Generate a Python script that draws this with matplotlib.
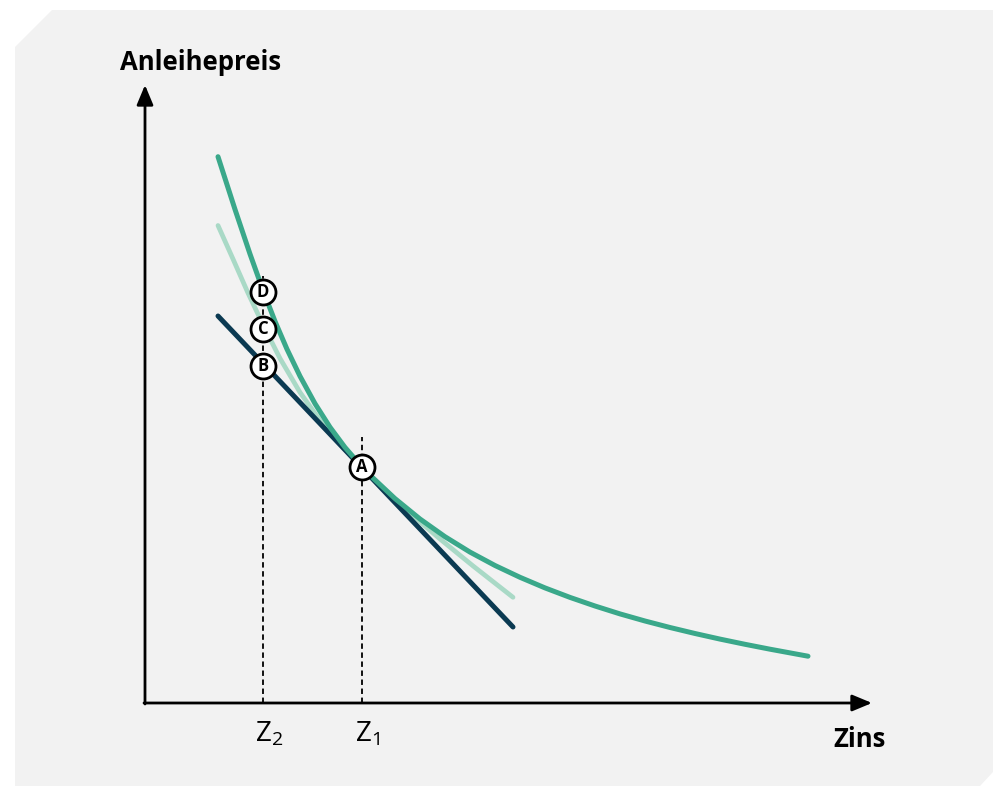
import matplotlib
matplotlib.use('Agg')
import matplotlib.pyplot as plt
from matplotlib.patches import Polygon

plt.rcParams['font.family'] = ['Open Sans', 'DejaVu Sans']
plt.rcParams['mathtext.fontset'] = 'custom'
plt.rcParams['mathtext.rm'] = 'Open Sans'
plt.rcParams['mathtext.it'] = 'Open Sans:italic'

# Anleihepreis-Kurve
price_x = [0.73, 0.90, 1.05, 1.18, 1.30, 1.42, 1.55, 1.70, 1.85, 2.00, 2.17, 2.25,
           2.50, 2.75, 3.00, 3.25, 3.50, 3.75, 4.00, 4.25, 4.50, 4.75, 5.00, 5.25,
           5.50, 5.75, 6.00, 6.25, 6.63]
price_y = [5.463, 4.936, 4.490, 4.126, 3.817, 3.538, 3.268, 2.994, 2.758, 2.556, 2.360,
           2.278, 2.044, 1.840, 1.663, 1.509, 1.375, 1.257, 1.151, 1.056, 0.970, 0.891,
           0.820, 0.755, 0.695, 0.639, 0.587, 0.538, 0.468]

# Approximation (Duration + Konvexitaet)
approx_x = [0.73, 0.88, 1.03, 1.18, 1.35, 1.55, 1.78, 1.90, 2.05, 2.17, 2.40, 2.62,
            2.95, 3.28, 3.68]
approx_y = [4.775, 4.440, 4.100, 3.782, 3.446, 3.106, 2.784, 2.642, 2.483, 2.360, 2.130,
            1.925, 1.640, 1.371, 1.057]

# Tangente in A (Duration)
tangent_x = [0.73, 3.68]
tangent_y = [3.87, 0.76]

z_values = [1.18, 2.17]
z_labels = [r'Z$_2$', r'Z$_1$']
guide_tops = [4.27, 2.66]

point_labels = ['A', 'B', 'C', 'D']
point_x = [2.17, 1.18, 1.18, 1.18]
point_y = [2.36, 3.37, 3.74, 4.11]

green = '#3aa88a'
light_green = '#a9d9c6'
navy = '#0b3a52'

W, H = 993, 786
fig = plt.figure(figsize=(W / 100, H / 100), dpi=100)
fig.patch.set_facecolor('white')

ax = fig.add_axes([0, 0, 1, 1])
ax.set_xlim(-1.45, 8.48)
ax.set_ylim(-0.83, 7.03)
ax.axis('off')
ax.patch.set_alpha(0)

# background panel with cut corners
corners = [(15, 47), (52, 10), (993, 10), (993, 772), (980, 786), (15, 786)]
panel = Polygon([(px / W, 1 - py / H) for px, py in corners], closed=True,
                facecolor='#f2f2f2', edgecolor='none', transform=fig.transFigure, zorder=0)
ax.add_patch(panel)

# axes with arrows
arrow = dict(arrowstyle='-|>,head_length=0.6,head_width=0.25', mutation_scale=20,
             lw=2, color='black', shrinkA=0, shrinkB=0)
ax.annotate('', xy=(7.27, 0), xytext=(-0.01, 0), arrowprops=arrow, zorder=2)
ax.annotate('', xy=(0, 6.18), xytext=(0, -0.01), arrowprops=arrow, zorder=2)

ax.text(0.56, 6.33, 'Anleihepreis', ha='center', va='baseline', fontsize=18.5,
        fontweight='bold', color='black')
ax.text(7.15, -0.44, 'Zins', ha='center', va='baseline', fontsize=18.5,
        fontweight='bold', color='black')

# dashed guides
for z, top, lab in zip(z_values, guide_tops, z_labels):
    ax.plot([z, z], [0, top], color='black', lw=1.3, dashes=(3, 2), zorder=1)
    ax.text(z + 0.06, -0.39, lab, ha='center', va='baseline', fontsize=20, color='black')

ax.plot(approx_x, approx_y, color=light_green, lw=3.4, solid_capstyle='round',
        solid_joinstyle='round', zorder=3)
ax.plot(tangent_x, tangent_y, color=navy, lw=3.6, solid_capstyle='round', zorder=4)
ax.plot(price_x, price_y, color=green, lw=3.6, solid_capstyle='round',
        solid_joinstyle='round', zorder=5)

ax.plot(point_x, point_y, 'o', ms=18, mfc='white', mec='black', mew=2, zorder=6)
for lab, x, y in zip(point_labels, point_x, point_y):
    ax.text(x, y, lab, ha='center', va='center', fontsize=12, fontweight='bold',
            color='black', zorder=7)

fig.savefig('out.png', dpi=100)
